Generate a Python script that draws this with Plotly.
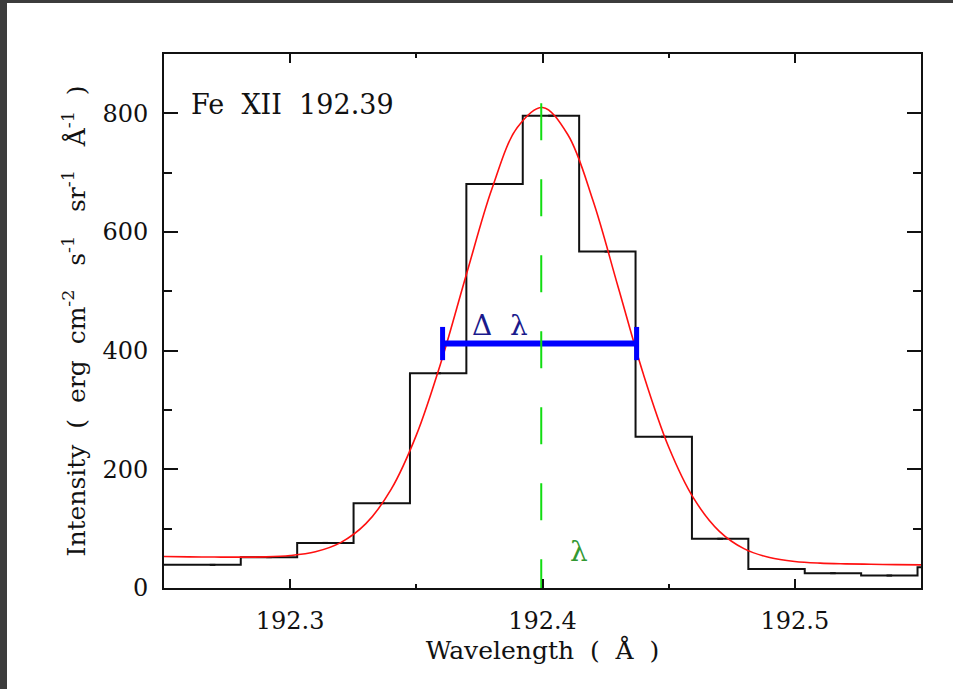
import plotly.graph_objects as go

# ---- data ----
bin_centers = [192.2469, 192.26925, 192.2916, 192.31395, 192.3363, 192.35865, 192.381,
               192.40335, 192.4257, 192.44805, 192.4704, 192.49275, 192.5151, 192.53745, 192.5598]
bin_values = [39, 39, 52, 76, 143, 362, 681, 796, 567, 255, 83, 32, 25, 21, 35]

fit_x = [192.25, 192.26, 192.27, 192.28, 192.29, 192.30, 192.31, 192.32, 192.33, 192.34,
         192.35, 192.36, 192.37, 192.38, 192.39, 192.40, 192.41, 192.42, 192.43, 192.44,
         192.45, 192.46, 192.47, 192.48, 192.49, 192.50, 192.51, 192.52, 192.53, 192.54, 192.55]
fit_y = [53, 52.5, 52.2, 52.0, 52.4, 54.7, 61.1, 76.5, 108.4, 166.1,
         257.6, 383.4, 530.9, 673.4, 776.0, 809.8, 764.3, 653.0, 506.9, 360.1,
         237.7, 150.5, 95.9, 65.9, 51.3, 44.7, 41.9, 40.7, 40.0, 39.4, 39.0]

line_center = 192.3995      # lambda
line_top = 817              # top of dashed marker
fwhm_left = 192.3604
fwhm_right = 192.4373
half_max = 412
cap_half = 28

x_ticks = [192.3, 192.4, 192.5]
y_ticks = [0, 200, 400, 600, 800]

FONT = "DejaVu Serif"
NB = "\u00a0"

fig = go.Figure()

# histogram (black steps)
fig.add_trace(go.Scatter(x=bin_centers, y=bin_values, mode="lines", line_shape="hvh",
                         line=dict(color="#111111", width=2), hoverinfo="skip"))
fig.add_trace(go.Scatter(x=bin_centers, y=bin_values, mode="markers",
                         marker=dict(symbol="line-ew", size=4, line=dict(width=2, color="#111111")),
                         hoverinfo="skip"))
# gaussian fit (red)
fig.add_trace(go.Scatter(x=fit_x, y=fit_y, mode="lines", line_shape="spline",
                         line=dict(color="#ff1010", width=1.6), hoverinfo="skip"))
# FWHM bar (blue)
fig.add_trace(go.Scatter(x=[fwhm_left, fwhm_right], y=[half_max, half_max], mode="lines",
                         line=dict(color="#0000ff", width=6), hoverinfo="skip"))
for xc in (fwhm_left, fwhm_right):
    fig.add_trace(go.Scatter(x=[xc, xc], y=[half_max - cap_half, half_max + cap_half], mode="lines",
                             line=dict(color="#0000ff", width=5), hoverinfo="skip"))
# line centre (green dashed)
fig.add_trace(go.Scatter(x=[line_center, line_center], y=[line_top, 0], mode="lines",
                         line=dict(color="#11dd11", width=2, dash="37px,39px"), hoverinfo="skip"))

axis_common = dict(showline=True, linecolor="#111111", linewidth=2, mirror="allticks",
                   ticks="inside", tickcolor="#111111", tickwidth=2, showgrid=False, zeroline=False,
                   tickfont=dict(family=FONT, size=24, color="#111111"))

fig.update_xaxes(range=[192.25, 192.55], tickvals=x_ticks, ticktext=[f"{v:.1f}" for v in x_ticks],
                 ticklen=9, ticklabelstandoff=10,
                 minor=dict(dtick=0.05, tick0=192.25, ticks="inside", ticklen=4, tickwidth=2, tickcolor="#111111"),
                 title=dict(text="Wavelength" + NB + " (" + NB + " Å" + NB + " )",
                            font=dict(family=FONT, size=25, color="#111111"), standoff=6),
                 **axis_common)
fig.update_yaxes(range=[0, 900], tickvals=y_ticks, ticklen=14, ticklabelstandoff=9,
                 minor=dict(dtick=100, tick0=0, ticks="inside", ticklen=8, tickwidth=2, tickcolor="#111111"),
                 title=dict(text="Intensity" + NB + " (" + NB + " erg" + NB + " cm<sup>-2</sup>" + NB + NB + " s<sup>-1</sup>"
                                 + NB + NB + " sr<sup>-1</sup>" + NB + NB + " Å<sup>-1</sup>" + NB + " )",
                            font=dict(family=FONT, size=25, color="#111111"), standoff=10),
                 **axis_common)

fig.add_annotation(x=0.033, y=0.906, xref="paper", yref="paper",
                   text="Fe" + NB + " XII" + NB + " 192.39",
                   showarrow=False, xanchor="left", yanchor="middle",
                   font=dict(family=FONT, size=27, color="#111111"))
fig.add_annotation(x=192.3833, y=443, text="Δ" + NB + NB + "λ", showarrow=False,
                   font=dict(family=FONT, size=28, color="#1a1a8c"))
fig.add_annotation(x=192.4143, y=61, text="λ", showarrow=False,
                   font=dict(family=FONT, size=28, color="#339933"))

# dark frame of the screenshot (left and top)
L, T, W, H = 164, 54, 757, 534
def px_x(p): return (p - L) / W
def px_y(p): return (T + H - p) / H
fig.add_shape(type="rect", xref="paper", yref="paper", x0=px_x(0), x1=px_x(7), y0=px_y(689), y1=px_y(0),
              fillcolor="#3c3c3c", line=dict(width=0), layer="above")
fig.add_shape(type="rect", xref="paper", yref="paper", x0=px_x(0), x1=px_x(953), y0=px_y(3), y1=px_y(0),
              fillcolor="#3c3c3c", line=dict(width=0), layer="above")

fig.update_layout(width=953, height=689, margin=dict(l=164, r=32, t=54, b=101),
                  plot_bgcolor="white", paper_bgcolor="white", showlegend=False)

fig.write_html("out.html")
